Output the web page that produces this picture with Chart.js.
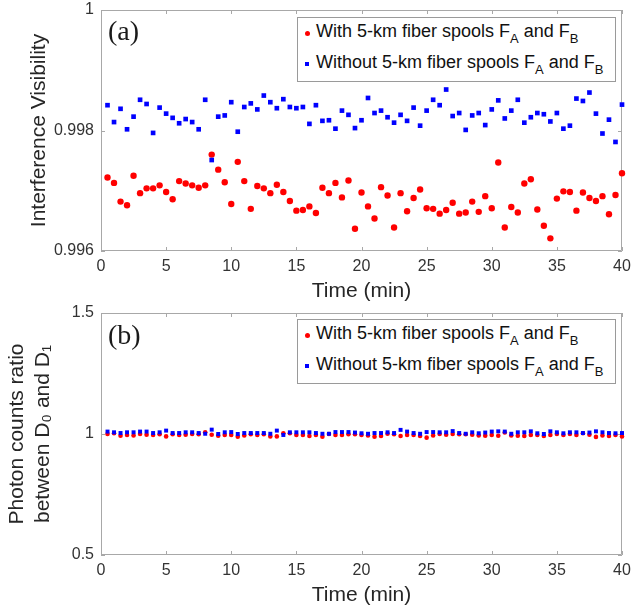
<!DOCTYPE html>
<html><head><meta charset="utf-8">
<script src="https://cdn.jsdelivr.net/npm/chart.js@4"></script>
<style>
body{margin:0;background:#fff;}
#wrap{position:relative;width:631px;height:609px;font-family:"Liberation Sans",Arial,sans-serif;overflow:hidden;}
canvas{position:absolute;left:0;}
#c1{top:0px} #c2{top:305px}
.panel{position:absolute;font-family:"Liberation Serif","Times New Roman",serif;font-size:28px;color:#1a1a1a;line-height:28px;}
.legend{position:absolute;left:297px;width:317px;height:63px;border:1px solid #9a9a9a;background:#fff;}
.item{position:absolute;left:18px;font-size:18px;line-height:20px;white-space:nowrap;color:#111;}
.item sub{font-size:13px;vertical-align:-6px;line-height:0;}
.mk{position:absolute;}
</style>
</head><body>
<div id="wrap">
<canvas id="c1" width="631" height="305"></canvas>
<canvas id="c2" width="631" height="304"></canvas>
<div class="panel" style="left:108px;top:17px;">(a)</div>
<div class="panel" style="left:108px;top:321px;">(b)</div>
<div class="legend" style="top:17px;">
  <div class="mk" style="left:6.5px;top:13px;width:5px;height:5px;border-radius:50%;background:#ff0000;"></div>
  <div class="item" style="top:3px;">With 5-km fiber spools F<sub>A</sub> and F<sub>B</sub></div>
  <div class="mk" style="left:7px;top:44px;width:4px;height:4px;background:#0000ff;"></div>
  <div class="item" style="top:34px;">Without 5-km fiber spools F<sub>A</sub> and F<sub>B</sub></div>
</div>
<div class="legend" style="top:319px;">
  <div class="mk" style="left:6.5px;top:13px;width:5px;height:5px;border-radius:50%;background:#ff0000;"></div>
  <div class="item" style="top:3px;">With 5-km fiber spools F<sub>A</sub> and F<sub>B</sub></div>
  <div class="mk" style="left:7px;top:44px;width:4px;height:4px;background:#0000ff;"></div>
  <div class="item" style="top:34px;">Without 5-km fiber spools F<sub>A</sub> and F<sub>B</sub></div>
</div>
</div>
<script>
// ---- data ----
const timeMin = [0.5,1,1.5,2,2.5,3,3.5,4,4.5,5,5.5,6,6.5,7,7.5,8,8.5,9,9.5,10,
  10.5,11,11.5,12,12.5,13,13.5,14,14.5,15,15.5,16,16.5,17,17.5,18,18.5,19,19.5,20,
  20.5,21,21.5,22,22.5,23,23.5,24,24.5,25,25.5,26,26.5,27,27.5,28,28.5,29,29.5,30,
  30.5,31,31.5,32,32.5,33,33.5,34,34.5,35,35.5,36,36.5,37,37.5,38,38.5,39,39.5,40];

const visWith = [0.99722,0.99713,0.99682,0.99676,0.99725,0.99696,0.99704,0.99704,0.99709,0.99698,
  0.99686,0.99716,0.99712,0.99709,0.99705,0.99709,0.99760,0.99735,0.99714,0.99678,
  0.99748,0.99716,0.99670,0.99708,0.99704,0.99696,0.99710,0.99698,0.99683,0.99667,
  0.99668,0.99674,0.99663,0.99705,0.99696,0.99713,0.99689,0.99717,0.99637,0.99697,
  0.99674,0.99654,0.99706,0.99692,0.99639,0.99696,0.99666,0.99688,0.99702,0.99671,
  0.99670,0.99662,0.99668,0.99680,0.99662,0.99664,0.99682,0.99665,0.99691,0.99671,
  0.99747,0.99639,0.99673,0.99664,0.99712,0.99719,0.99669,0.99642,0.99621,0.99687,
  0.99699,0.99698,0.99667,0.99697,0.99688,0.99683,0.99691,0.99661,0.99693,0.99729];

const visWithout = [0.99842,0.99814,0.99836,0.99802,0.99823,0.99851,0.99844,0.99796,0.99838,0.99828,
  0.99821,0.99812,0.99819,0.99814,0.99802,0.99851,0.99751,0.99823,0.99825,0.99847,
  0.99798,0.99839,0.99845,0.99835,0.99858,0.99847,0.99837,0.99852,0.99839,0.99837,
  0.99839,0.99811,0.99842,0.99816,0.99817,0.99803,0.99833,0.99826,0.99804,0.99817,
  0.99854,0.99829,0.99833,0.99822,0.99813,0.99826,0.99816,0.99838,0.99808,0.99833,
  0.99851,0.99842,0.99868,0.99824,0.99829,0.99801,0.99825,0.99829,0.99809,0.99835,
  0.99850,0.99820,0.99833,0.99851,0.99813,0.99822,0.99829,0.99827,0.99815,0.99829,
  0.99803,0.99808,0.99853,0.99849,0.99863,0.99828,0.99795,0.99818,0.99781,0.99843];

const ratioWith = [1.000,1.003,0.993,0.996,0.994,1.000,0.997,0.996,0.999,0.990,
  0.999,0.996,0.997,1.000,0.999,1.007,0.997,0.993,0.996,0.996,
  0.989,0.994,0.999,0.996,0.999,0.990,0.990,1.003,1.003,0.996,
  0.996,0.992,0.996,0.989,1.000,0.996,0.996,0.999,0.999,0.996,
  0.994,0.989,0.992,1.001,0.999,0.992,0.996,0.996,0.992,0.985,
  0.994,1.000,0.997,1.000,0.999,0.999,0.997,0.994,0.993,0.996,
  0.993,1.006,0.994,0.993,0.992,0.996,0.996,0.992,0.996,1.000,
  0.996,1.000,0.996,1.003,0.997,0.988,0.994,0.992,0.996,0.990];

const ratioWithout = [1.010,1.007,1.004,1.007,1.007,1.010,1.010,1.004,1.007,1.014,
  1.004,1.004,1.007,1.007,1.004,1.001,1.018,1.000,1.007,1.008,
  1.000,1.004,1.004,1.004,1.004,1.001,1.014,0.996,1.007,1.007,
  1.007,1.007,1.004,1.001,1.001,1.008,1.008,1.008,1.006,1.003,
  1.001,1.004,1.004,1.007,1.004,1.017,1.010,1.004,1.001,1.008,
  1.008,1.007,1.007,1.012,1.004,1.001,1.007,1.003,1.006,1.010,
  1.011,1.010,1.001,1.007,1.007,1.011,1.003,1.000,1.011,1.007,
  1.003,1.007,1.007,1.004,1.006,1.011,1.007,1.004,1.003,1.004];

const seriesNames = ['With 5-km fiber spools FA and FB', 'Without 5-km fiber spools FA and FB'];
const xTicks = [0,5,10,15,20,25,30,35,40];
const visTicks = [0.996,0.998,1];
const ratioTicks = [0.5,1,1.5];

// ---- helpers ----
const FONT = '"Liberation Sans", Arial, sans-serif';
const frameTicks = {
  id: 'frameTicks',
  beforeDatasetsDraw(chart) {
    const {ctx, chartArea: a, scales: {x, y}} = chart;
    ctx.save();
    ctx.strokeStyle = '#a8a8a8';
    ctx.lineWidth = 1;
    ctx.beginPath();
    ctx.rect(a.left + 0.5, a.top + 0.5, a.right - a.left - 1, a.bottom - a.top - 1);
    const L = 4;
    x.ticks.forEach(t => {
      const p = Math.round(x.getPixelForValue(t.value)) + 0.5;
      ctx.moveTo(p, a.bottom); ctx.lineTo(p, a.bottom - L);
      ctx.moveTo(p, a.top); ctx.lineTo(p, a.top + L);
    });
    y.ticks.forEach(t => {
      const p = Math.round(y.getPixelForValue(t.value)) + 0.5;
      ctx.moveTo(a.left, p); ctx.lineTo(a.left + L, p);
      ctx.moveTo(a.right, p); ctx.lineTo(a.right - L, p);
    });
    ctx.stroke();
    ctx.restore();
  }
};

function pts(ys) { return timeMin.map((t, i) => ({x: t, y: ys[i]})); }
const fmt = v => String(Math.round(v * 1000) / 1000);

function makeChart(id, withVals, withoutVals, yTicks, yTitle, padTop, yTitlePad, yTitleLH, sizes) {
  return new Chart(document.getElementById(id), {
    type: 'scatter',
    data: {
      datasets: [
        {label: seriesNames[0], data: pts(withVals), pointStyle: 'circle', pointRadius: sizes[0],
         backgroundColor: '#ff0000', borderColor: '#ff0000', borderWidth: 0, order: 1, clip: false},
        {label: seriesNames[1], data: pts(withoutVals), pointStyle: 'rect', pointRadius: sizes[1],
         backgroundColor: '#0000ff', borderColor: '#0000ff', borderWidth: 0, order: 0, clip: false}
      ]
    },
    options: {
      responsive: false, animation: false, devicePixelRatio: 1,
      layout: {padding: {top: padTop, right: 9, left: 0, bottom: 0}},
      plugins: {legend: {display: false}, tooltip: {enabled: false}},
      scales: {
        x: {
          type: 'linear', min: xTicks[0], max: xTicks[xTicks.length - 1],
          afterBuildTicks: s => { s.ticks = xTicks.map(v => ({value: v})); },
          ticks: {font: {family: FONT, size: 16}, color: '#333', padding: 6, maxRotation: 0, callback: fmt},
          grid: {display: false, drawTicks: false}, border: {display: false},
          title: {display: true, text: 'Time (min)', font: {family: FONT, size: 21}, color: '#262626', padding: {top: 0, bottom: 1}},
          afterFit: s => { s.height = 54; s.paddingLeft = 0; s.paddingRight = 0; }
        },
        y: {
          type: 'linear', min: yTicks[0], max: yTicks[yTicks.length - 1],
          afterBuildTicks: s => { s.ticks = yTicks.map(v => ({value: v})); },
          ticks: {font: {family: FONT, size: 16}, color: '#333', padding: 7, callback: fmt},
          grid: {display: false, drawTicks: false}, border: {display: false},
          title: {display: true, text: yTitle, font: {family: FONT, size: 21, lineHeight: yTitleLH}, color: '#262626', padding: {top: yTitlePad, bottom: 0}},
          afterFit: s => { s.width = 101; s.paddingTop = 0; s.paddingBottom = 0; }
        }
      }
    },
    plugins: [frameTicks]
  });
}

makeChart('c1', visWith, visWithout, visTicks, 'Interference Visibility', 10, 27, 1.2, [3.2, 3.3]);
makeChart('c2', ratioWith, ratioWithout, ratioTicks, ['Photon counts ratio', 'between D\u2080 and D\u2081'], 8, 4, 1.24, [2.3, 2.8]);
</script>
</body></html>
